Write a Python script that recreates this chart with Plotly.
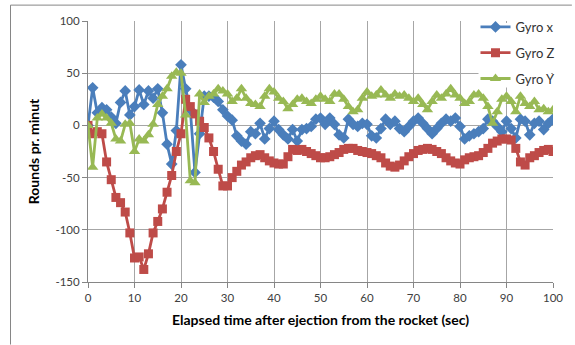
import plotly.graph_objects as go

# Elapsed time after ejection (s), one sample per second
time_s = list(range(0, 101))

gyro_x = [0, 36, 12, 17, 15, 8, 2, 22, 33, 10,
          18, 34, 20, 33, 26, 35, 12, -18, -37, -5,
          58, 35, 15, -45, -8, 28, 28, 27, 23, 15,
          9, 5, -10, -15, -18, -6, -8, 2, -13, -3,
          4, -4, -9, -13, -4, -15, -4, -3, -1, 6,
          7, 1, 7, 1, -9, -12, 6, 1, -1, 2,
          1, -10, -12, -3, 6, 1, 4, -3, -6, -1,
          4, 7, 2, -3, -8, -3, 2, 6, 4, 7,
          -1, -13, -10, -8, -6, -3, 6, 4, -1, -6,
          4, -3, -12, 6, 4, -9, 2, 4, -4, 2,
          6]

gyro_z = [0, -8, -6, -8, -35, -52, -69, -74, -83, -103,
          -127, -126, -138, -123, -103, -92, -80, -64, -48, -25,
          -8, 25, 18, 11, 4, -2, -12, -25, -42, -58,
          -58, -50, -44, -38, -35, -31, -29, -28, -31, -34,
          -36, -37, -37, -30, -23, -24, -23, -25, -27, -29,
          -31, -31, -30, -28, -26, -23, -22, -22, -24, -25,
          -26, -27, -29, -31, -36, -39, -40, -38, -34, -30,
          -27, -24, -23, -22, -23, -25, -27, -31, -34, -36,
          -37, -33, -31, -30, -29, -26, -22, -17, -15, -13,
          -13, -14, -22, -35, -38, -31, -29, -26, -24, -23,
          -25]

gyro_y = [0, -40, 7, 11, 7, 2, -13, -15, 1, 2,
          -25, -13, -15, -9, 1, 20, 28, 35, 47, 51,
          50, 10, -53, -55, 30, 22, 28, 30, 35, 33,
          30, 23, 26, 35, 26, 21, 20, 18, 28, 35,
          32, 26, 23, 16, 20, 25, 26, 23, 21, 25,
          28, 25, 23, 30, 30, 25, 18, 13, 15, 26,
          32, 28, 29, 34, 29, 26, 30, 28, 29, 26,
          23, 26, 20, 15, 23, 29, 26, 30, 35, 29,
          26, 21, 23, 29, 30, 26, 18, 2, 13, 25,
          28, 23, 13, 28, 21, 18, 23, 15, 16, 13,
          15]

series_names = ["Gyro x", "Gyro Z", "Gyro Y"]
x_ticks = [0, 10, 20, 30, 40, 50, 60, 70, 80, 90, 100]
y_ticks = [-150, -100, -50, 0, 50, 100]

BLUE = "#4A7EBB"
RED = "#BE4B48"
GREEN = "#98B954"
FONT = "Lato, 'Open Sans', sans-serif"

# plot-area pixel geometry
W, H = 575, 345
L, R, T, B = 88, 19, 19, 63
pw, ph = W - L - R, H - T - B


def px_x(p):
    return (p - L) / pw


def px_y(p):
    return (H - B - p) / ph


fig = go.Figure()
styles = [
    (gyro_x, BLUE, "diamond", 9, "legend", 25),
    (gyro_z, RED, "square", 9, "legend2", 51),
    (gyro_y, GREEN, "triangle-up", 10, "legend3", 77),
]
legend_cfg = {}
for name, (vals, col, sym, size, leg, ly) in zip(series_names, styles):
    fig.add_trace(go.Scatter(
        x=time_s, y=vals, name=name, mode="lines+markers",
        line=dict(color=col, width=2.8),
        marker=dict(symbol=sym, size=size, color=col, line=dict(width=0)),
        legend=leg,
    ))
    legend_cfg[leg] = dict(
        x=px_x(478), y=px_y(ly), xanchor="left", yanchor="middle",
        bgcolor="rgba(0,0,0,0)", borderwidth=0,
        font=dict(family=FONT, size=13, color="#333333"),
        itemwidth=30,
    )

fig.update_layout(
    width=W, height=H,
    margin=dict(l=L, r=R, t=T, b=B),
    paper_bgcolor="white", plot_bgcolor="white",
    font=dict(family=FONT, size=11, color="#404040"),
    showlegend=True,
    xaxis=dict(
        range=[0, 100], tickvals=x_ticks, ticktext=[str(v) for v in x_ticks],
        showgrid=True, gridcolor="#A6A6A6", gridwidth=1,
        showline=True, linecolor="#868686", linewidth=1,
        ticks="outside", ticklen=5, tickcolor="#868686",
        zeroline=False,
        tickfont=dict(family=FONT, size=11.5, color="#404040"),
        title=dict(text="<b>Elapsed time after ejection from the rocket (sec)</b>",
                   font=dict(family=FONT, size=14, color="#000000"), standoff=12),
    ),
    yaxis=dict(
        range=[-150, 100], tickvals=y_ticks, ticktext=[str(v) for v in y_ticks],
        showgrid=True, gridcolor="#A6A6A6", gridwidth=1,
        showline=True, linecolor="#868686", linewidth=1,
        ticks="outside", ticklen=5, tickcolor="#868686",
        zeroline=False,
        tickfont=dict(family=FONT, size=11.5, color="#404040"),
        title=dict(text="<b>Rounds pr. minut</b>",
                   font=dict(family=FONT, size=14, color="#000000"), standoff=12),
    ),
    shapes=[
        # white backing behind the legend block (keeps top and right gridlines)
        dict(type="rect", xref="paper", yref="paper", layer="above",
             x0=px_x(481), x1=px_x(554), y0=px_y(86), y1=px_y(21),
             fillcolor="white", line=dict(width=0)),
        # outer chart frame (left and top edges)
        dict(type="line", xref="paper", yref="paper",
             x0=px_x(10), x1=px_x(10), y0=px_y(3), y1=px_y(345),
             line=dict(color="#868686", width=1)),
        dict(type="line", xref="paper", yref="paper",
             x0=px_x(10), x1=px_x(575), y0=px_y(3), y1=px_y(3),
             line=dict(color="#868686", width=1)),
    ],
    **legend_cfg,
)

fig.write_html("out.html")
